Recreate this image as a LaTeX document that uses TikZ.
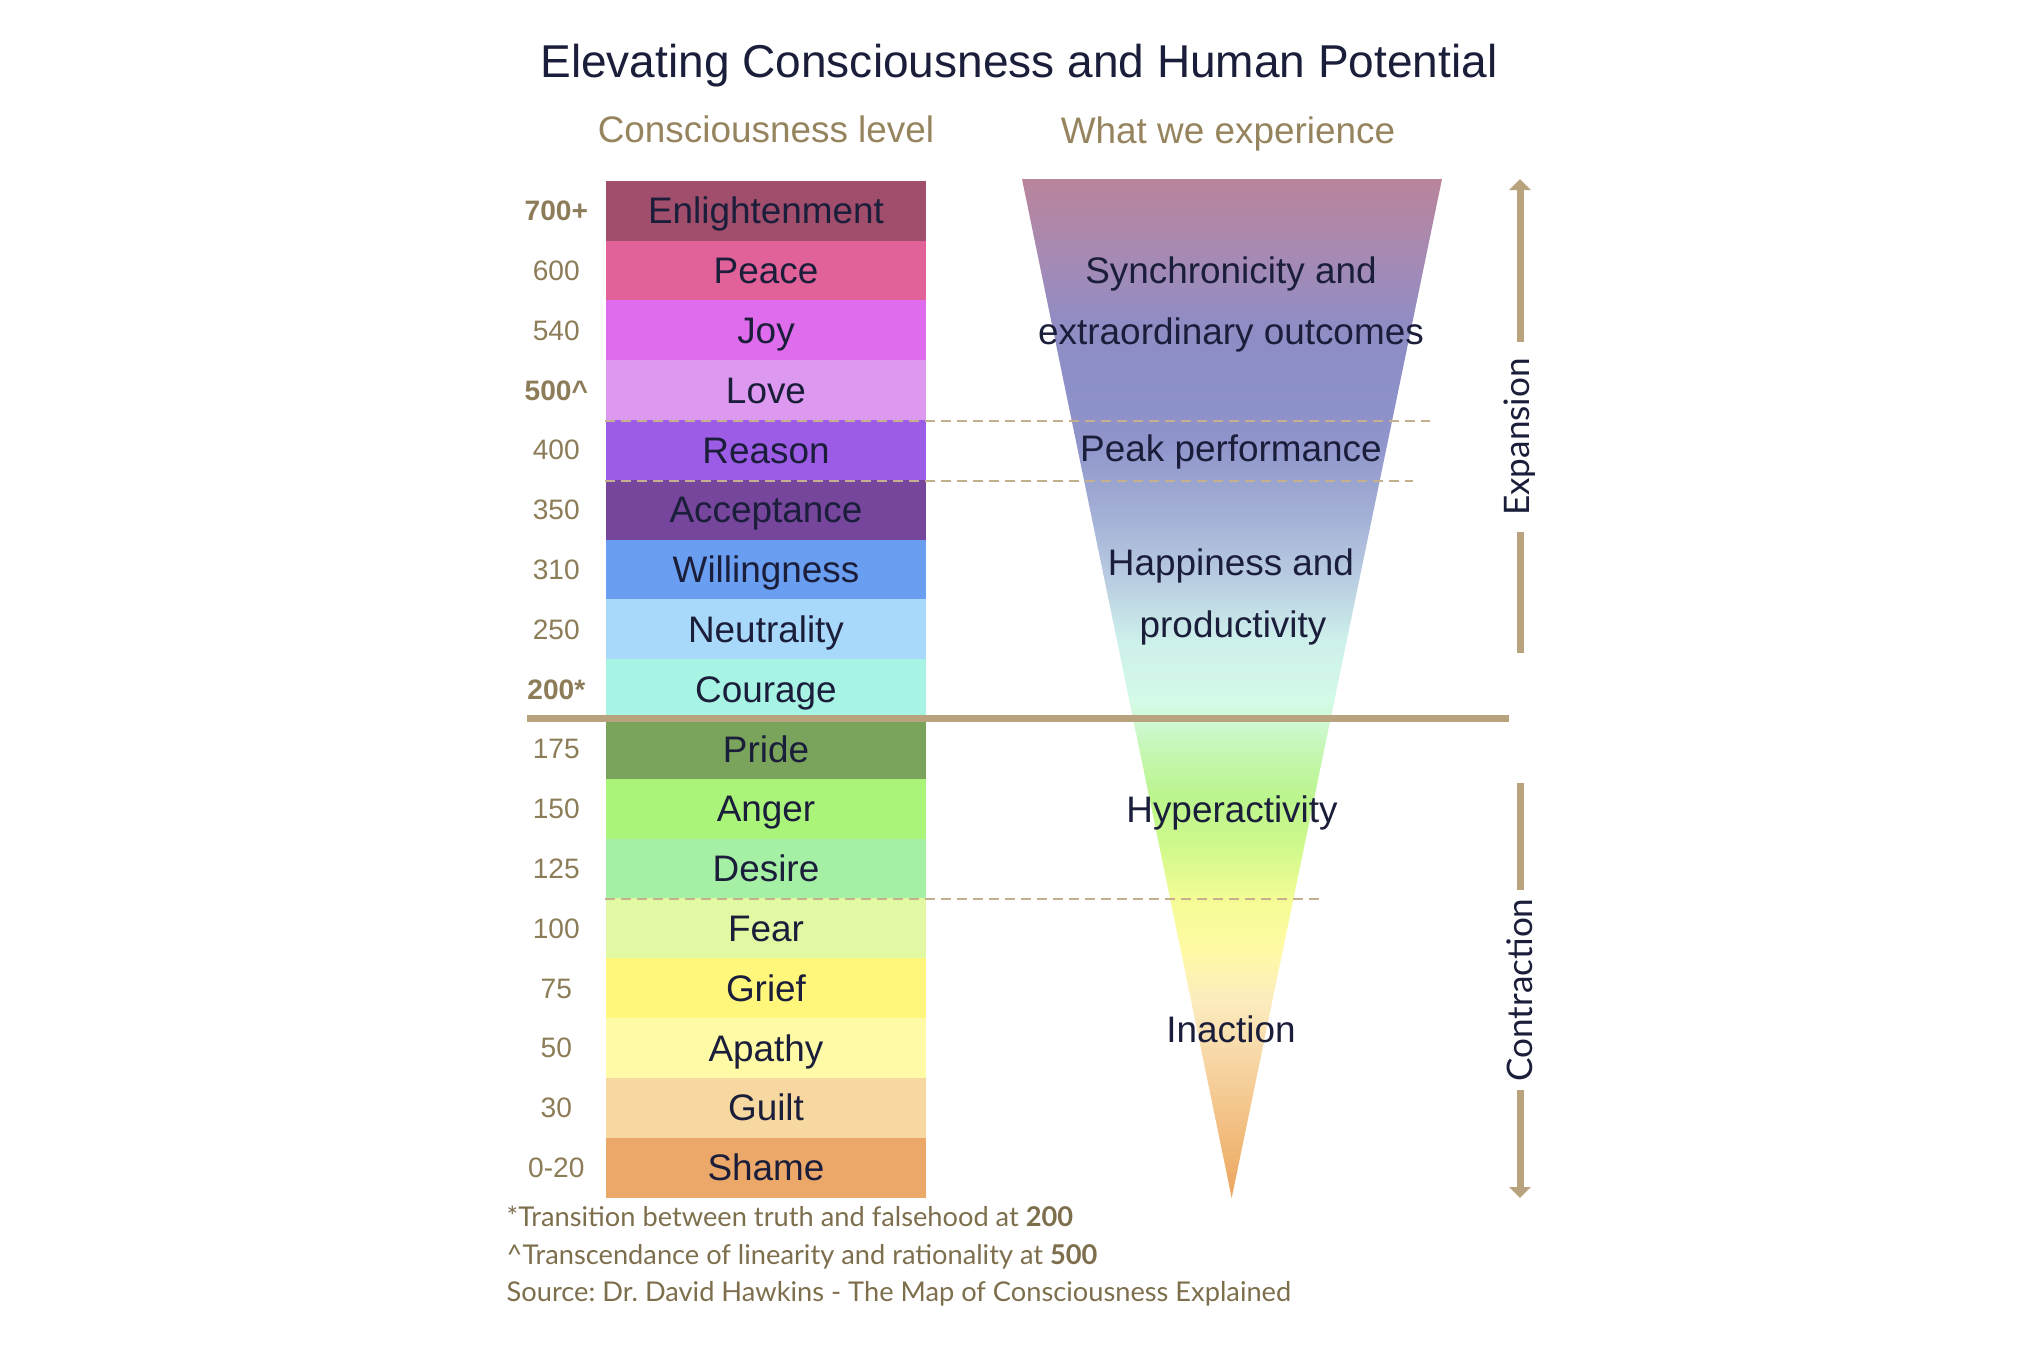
\documentclass[tikz,border=0pt]{standalone}
\usepackage{fontspec}
\setmainfont{Liberation Sans}
\newfontfamily\notefont{Lato}
\usetikzlibrary{positioning,arrows.meta}
\frenchspacing

\definecolor{inkblue}{RGB}{27,30,58}
\definecolor{tanline}{RGB}{185,162,126}
\definecolor{tantext}{RGB}{150,132,94}
\definecolor{numtext}{RGB}{140,124,88}
\definecolor{notetext}{RGB}{125,110,76}
\definecolor{dashtan}{RGB}{196,176,140}

% level colours
\definecolor{cEnl}{RGB}{160,78,108}
\definecolor{cPea}{RGB}{225,98,152}
\definecolor{cJoy}{RGB}{222,108,236}
\definecolor{cLov}{RGB}{221,153,240}
\definecolor{cRea}{RGB}{156,92,230}
\definecolor{cAcc}{RGB}{117,70,155}
\definecolor{cWil}{RGB}{106,158,240}
\definecolor{cNeu}{RGB}{168,216,250}
\definecolor{cCou}{RGB}{168,244,228}
\definecolor{cPri}{RGB}{122,164,92}
\definecolor{cAng}{RGB}{170,244,122}
\definecolor{cDes}{RGB}{166,240,166}
\definecolor{cFea}{RGB}{226,248,162}
\definecolor{cGri}{RGB}{255,246,124}
\definecolor{cApa}{RGB}{255,250,166}
\definecolor{cGui}{RGB}{246,216,160}
\definecolor{cSha}{RGB}{235,168,104}

% funnel colours, tip to top
\definecolor{fun01}{RGB}{235,165,95}
\definecolor{fun02}{RGB}{242,190,128}
\definecolor{fun03}{RGB}{247,214,165}
\definecolor{fun04}{RGB}{252,236,190}
\definecolor{fun05}{RGB}{255,250,165}
\definecolor{fun06}{RGB}{245,252,150}
\definecolor{fun07}{RGB}{210,249,140}
\definecolor{fun08}{RGB}{188,245,140}
\definecolor{fun09}{RGB}{195,246,170}
\definecolor{fun10}{RGB}{212,250,232}
\definecolor{fun11}{RGB}{205,240,235}
\definecolor{fun12}{RGB}{185,205,225}
\definecolor{fun13}{RGB}{165,178,215}
\definecolor{fun14}{RGB}{143,148,202}
\definecolor{fun15}{RGB}{140,143,200}
\definecolor{fun16}{RGB}{145,140,195}
\definecolor{fun17}{RGB}{165,138,180}
\definecolor{fun18}{RGB}{185,132,155}

\pgfdeclareverticalshading{funnel}{100bp}{color(0bp)=(fun01); color(25bp)=(fun01);
  color(28.34bp)=(fun02); color(31.77bp)=(fun03); color(34.72bp)=(fun04);
  color(37.17bp)=(fun05); color(39.62bp)=(fun06); color(42.08bp)=(fun07);
  color(44.53bp)=(fun08); color(46.49bp)=(fun09); color(49.44bp)=(fun10);
  color(52.38bp)=(fun11); color(55.32bp)=(fun12); color(58.27bp)=(fun13);
  color(62.19bp)=(fun14); color(65.14bp)=(fun15); color(68.08bp)=(fun16);
  color(71.03bp)=(fun17); color(75bp)=(fun18); color(100bp)=(fun18)}

\begin{document}
\begin{tikzpicture}[>={Triangle[width=0.21cm,length=0.11cm]},
        headline/.style={inner sep=0pt,text=inkblue,font=\fontsize{13.1}{15}\selectfont,text height=9.4pt,text depth=0pt},
        rung/.style={minimum width=3.20cm,minimum height=0.60cm,inner sep=0pt,text=inkblue,
          font=\fontsize{10.5}{12}\selectfont,text height=7.5pt,text depth=0pt},
        score/.style={inner sep=0pt,text=numtext,font=\fontsize{8}{10}\selectfont,text height=5.7pt,text depth=0pt},
        colhead/.style={inner sep=0pt,text=tantext,font=\fontsize{10.5}{12}\selectfont,text height=7.5pt,text depth=0pt},
        say/.style={inner sep=0pt,text=inkblue,font=\fontsize{10.5}{12}\selectfont,text height=7.5pt,text depth=0pt},
        note/.style={inner sep=0pt,text=notetext,font=\notefont\fontsize{7.75}{9}\selectfont,anchor=base west},
        flow/.style={rotate=90,inner ysep=0pt,text=inkblue,font=\notefont\fontsize{10}{12}\selectfont},
        flowline/.style={draw=tanline,line width=0.07cm},
        tier/.style={draw=dashtan,line width=0.02cm,dash pattern=on 0.10cm off 0.06cm},
        split/.style={draw=tanline,line width=0.075cm}]
        \useasboundingbox (0,0) rectangle (20.25,-13.50);

        \node[headline] (title) at (10.19,-0.61) {Elevating Consciousness and Human Potential};

        % funnel
        \coordinate (funL) at (10.22,-1.79);
        \coordinate (funR) at (14.42,-1.79);
        \coordinate (funTip) at (12.317,-11.98);
        \shade[shading=funnel] (funL) -- (funR) -- (funTip) -- cycle;

        % levels with their scores
        \foreach \i/\lvlname/\lvlscore/\lvltone in {1/Enlightenment/{\bfseries 700+}/cEnl,
            2/Peace/600/cPea, 3/Joy/540/cJoy, 4/Love/{\bfseries 500\textasciicircum}/cLov,
            5/Reason/400/cRea, 6/Acceptance/350/cAcc, 7/Willingness/310/cWil,
            8/Neutrality/250/cNeu, 9/Courage/{\bfseries 200*}/cCou, 10/Pride/175/cPri,
            11/Anger/150/cAng, 12/Desire/125/cDes, 13/Fear/100/cFea, 14/Grief/75/cGri,
            15/Apathy/50/cApa, 16/Guilt/30/cGui, 17/Shame/0-20/cSha}{
          \node[rung,fill=\lvltone] (lvl\i) at (7.66,{-1.808-0.598*(\i-0.5)}) {\lvlname};
          \node[score,left=0.49cm of lvl\i,anchor=center] (sc\i) {\lvlscore};
        }

        \node[colhead,above=0.37cm of lvl1] (hdrLevel) {Consciousness level};
        \node[colhead] (hdrExp) at (12.28,-1.308) {What we experience};

        % dashed tiers
        \coordinate (tierA) at (14.30,0);
        \coordinate (tierB) at (14.13,0);
        \coordinate (tierC) at (13.24,0);
        \draw[tier] (lvl4.south west) -- (lvl4.south west -| tierA);
        \draw[tier] (lvl5.south west) -- (lvl5.south west -| tierB);
        \draw[tier] (lvl12.south west) -- (lvl12.south west -| tierC);

        % truth line at 200
        \coordinate (splitL) at (5.27,-7.185);
        \coordinate (splitR) at (15.085,-7.185);
        \draw[split] (splitL) -- (splitR);

        \node[say] (sync) at (12.31,-2.70) {Synchronicity and};
        \node[say] (extra) at (12.31,-3.31) {extraordinary outcomes};
        \node[say] (peak) at (12.31,-4.48) {Peak performance};
        \node[say] (happy) at (12.31,-5.62) {Happiness and};
        \node[say] (prod) at (12.33,-6.24) {productivity};
        \node[say] (hyper) at (12.32,-8.09) {Hyperactivity};
        \node[say] (inact) at (12.31,-10.29) {Inaction};

        % expansion / contraction arrows
        \node[flow,inner xsep=0.15cm] (expand) at (15.20,-4.37) {Expansion};
        \coordinate (expTop) at (15.20,-1.79);
        \coordinate (expEnd) at (15.20,-6.53);
        \draw[flowline,->] (expand.east) -- (expTop);
        \draw[flowline] (expand.west) -- (expEnd);
        \node[flow,inner xsep=0.08cm] (contract) at (15.20,-9.90) {Contraction};
        \coordinate (conTop) at (15.20,-7.83);
        \coordinate (conTip) at (15.20,-11.98);
        \draw[flowline] (contract.east) -- (conTop);
        \draw[flowline,->] (contract.west) -- (conTip);

        \node[note] (note1) at (5.06,-12.265) {*Transition between truth and falsehood at \textbf{200}};
        \node[note] (note2) at (5.06,-12.64) {\textasciicircum Transcendance of linearity and rationality at \textbf{500}};
        \node[note] (note3) at (5.06,-13.015) {Source: Dr. David Hawkins - The Map of Consciousness Explained};
\end{tikzpicture}
\end{document}
